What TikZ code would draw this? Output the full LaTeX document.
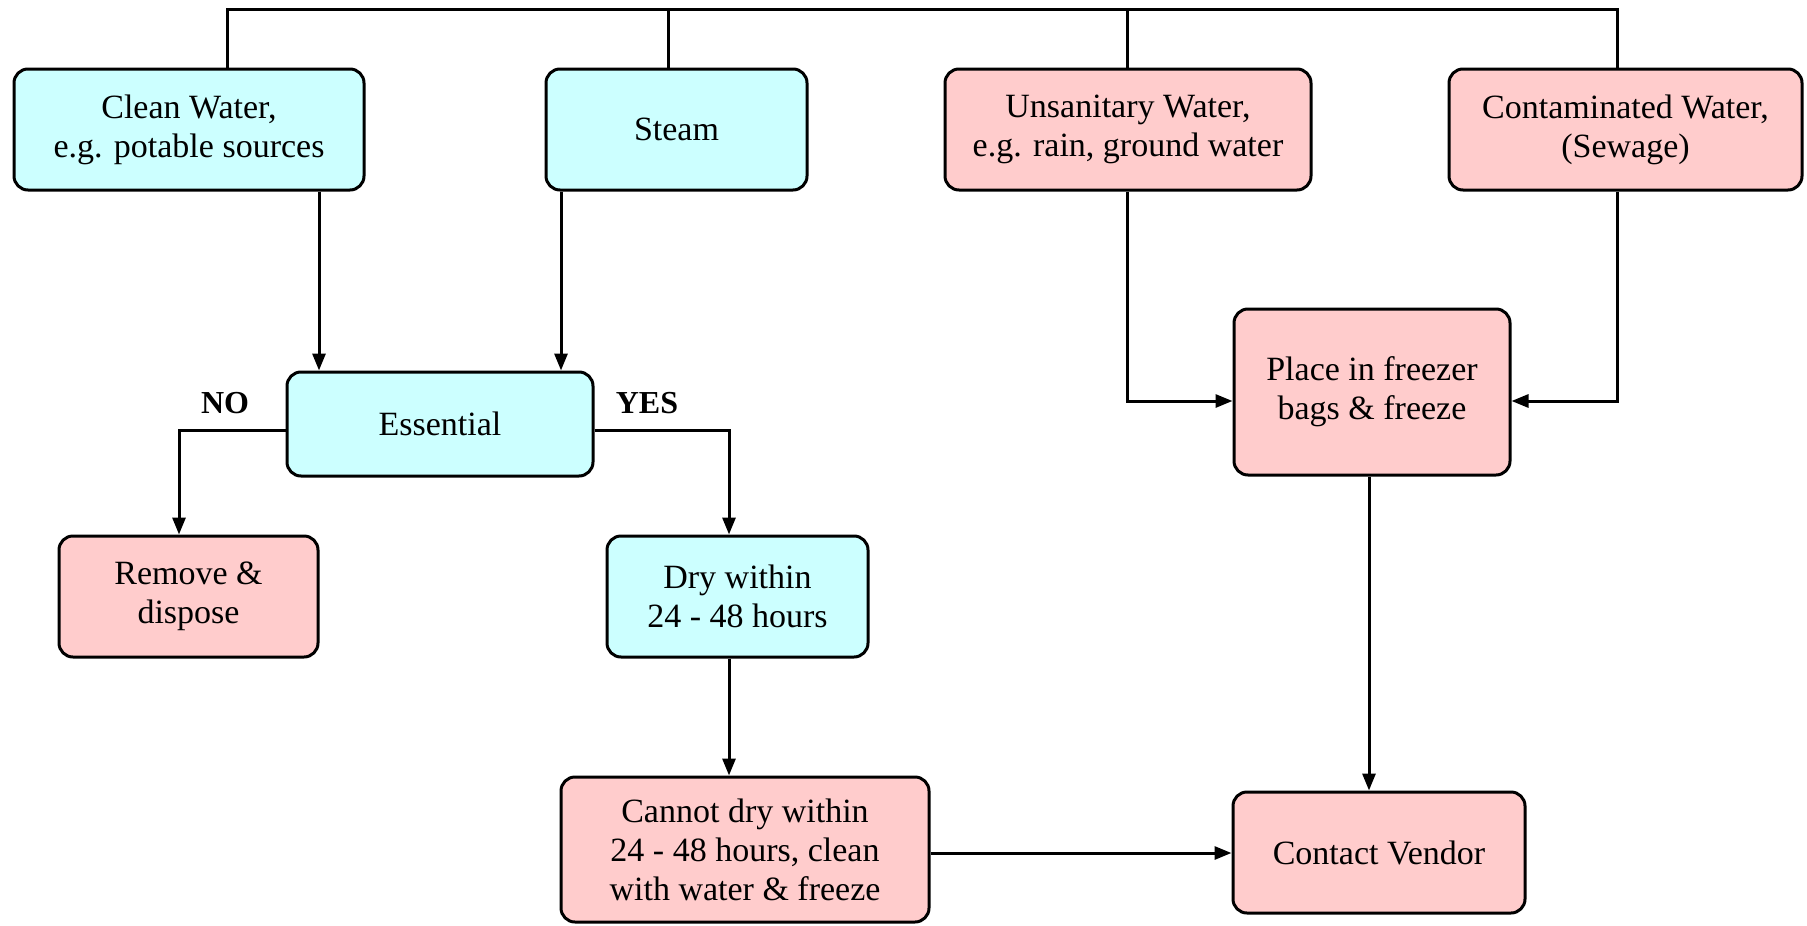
\documentclass[tikz,border=0pt]{standalone}
\usepackage{fontspec}
\setmainfont{Liberation Serif}
\usetikzlibrary{arrows.meta}
\definecolor{cyanfill}{RGB}{204,255,255}
\definecolor{pinkfill}{RGB}{255,204,204}
\tikzset{
  box/.style={draw=black, line width=3pt, rounded corners=14pt, align=center,
    inner sep=0pt, font=\fontsize{34}{39}\selectfont},
  bluebox/.style={box, fill=cyanfill},
  pinkbox/.style={box, fill=pinkfill},
  conn/.style={line width=3pt},
  arr/.style={conn, -{Triangle[length=17pt,width=13pt]}},
  lbl/.style={font=\fontsize{32}{39}\selectfont\bfseries}
}
\begin{document}
\begin{tikzpicture}[x=1pt,y=-1pt]
\useasboundingbox (0,0) rectangle (1807,926);
\node[bluebox, minimum width=350pt, minimum height=121pt] (clean) at (189,129.5) {Clean Water,\\e.g. potable sources};
\node[bluebox, minimum width=261pt, minimum height=121pt] (steam) at (676.5,129.5) {Steam};
\node[pinkbox, minimum width=366pt, minimum height=121pt] (unsan) at (1128,129.5) {Unsanitary Water,\\e.g. rain, ground water};
\node[pinkbox, minimum width=353pt, minimum height=121pt] (contam) at (1625.5,129.5) {Contaminated Water,\\(Sewage)};
\node[bluebox, minimum width=306pt, minimum height=104pt] (ess) at (440,424) {Essential};
\node[pinkbox, minimum width=259pt, minimum height=121pt] (rem) at (188.5,596.5) {Remove \&\\dispose};
\node[bluebox, minimum width=261pt, minimum height=121pt] (dry) at (737.5,596.5) {Dry within\\24 - 48 hours};
\node[pinkbox, minimum width=368pt, minimum height=145pt] (cannot) at (745,849.5) {Cannot dry within\\24 - 48 hours, clean\\with water \& freeze};
\node[pinkbox, minimum width=276pt, minimum height=166pt] (place) at (1372,392) {Place in freezer\\bags \& freeze};
\node[pinkbox, minimum width=292pt, minimum height=121pt] (contact) at (1379,852.5) {Contact Vendor};
\node[lbl] (no) at (225,403) {NO};
\node[lbl] (yes) at (647,403) {YES};
% top bus
\coordinate (t) at (0,9);
\coordinate (c1) at ([xshift=38pt]clean.north);
\coordinate (c2) at ([xshift=-8pt]steam.north);
\coordinate (c3) at ([xshift=-1pt]unsan.north);
\coordinate (c4) at ([xshift=-8.5pt]contam.north);
\draw[conn] (c1) -- (c1|-t) -- (c4|-t) -- (c4);
\draw[conn] (c2) -- (c2|-t);
\draw[conn] (c3) -- (c3|-t);
% to essential
\coordinate (e1) at ([xshift=130pt]clean.south);
\draw[arr] (e1) -- (e1|-ess.north);
\coordinate (e2) at ([xshift=-115.5pt]steam.south);
\draw[arr] (e2) -- (e2|-ess.north);
% no / yes
\coordinate (r1) at ([xshift=-9.5pt]rem.north);
\draw[arr] ([yshift=-6pt]ess.west) -| (r1);
\coordinate (d1) at ([xshift=-8.5pt]dry.north);
\draw[arr] ([yshift=-6pt]ess.east) -| (d1);
\coordinate (d2) at ([xshift=-8.5pt]dry.south);
\draw[arr] (d2) -- (d2|-cannot.north);
% cannot -> contact
\coordinate (k1) at ([yshift=-3.5pt]cannot.east);
\draw[arr] (k1) -- (k1-|contact.west);
% right side
\draw[arr] ([xshift=-1pt]unsan.south) |- ([yshift=-9pt]place.west);
\draw[arr] ([xshift=-8.5pt]contam.south) |- ([yshift=-9pt]place.east);
\coordinate (p1) at ([xshift=-3pt]place.south);
\draw[arr] (p1) -- (p1|-contact.north);
\end{tikzpicture}
\end{document}
